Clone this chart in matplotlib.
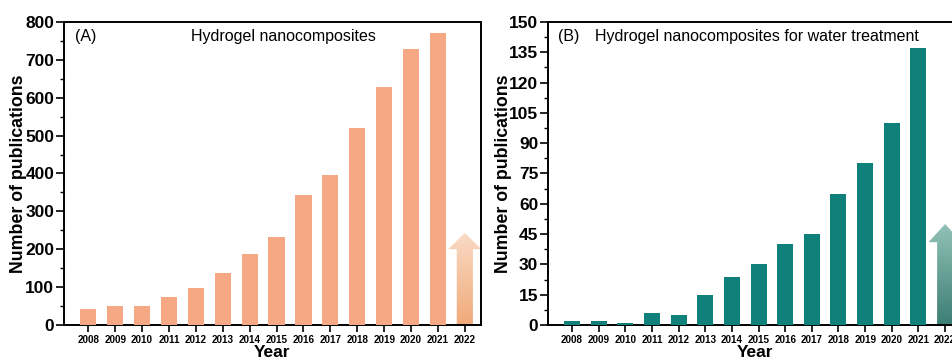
import numpy as np
import matplotlib.pyplot as plt
from matplotlib.patches import Polygon
from matplotlib.colors import LinearSegmentedColormap
from matplotlib.ticker import MultipleLocator

years = list(range(2008, 2022))
tick_years = list(range(2008, 2023))
hydrogel = [42, 51, 49, 75, 99, 137, 188, 232, 343, 397, 521, 628, 728, 771]
water = [2, 2, 1, 6, 5, 15, 24, 30, 40, 45, 65, 80, 100, 137]

plt.rcParams['font.family'] = ['Liberation Sans', 'DejaVu Sans']


def trend_arrow(ax, x, base, tip, shaft, head, cmap):
    # upward block arrow for the coming year, filled with a vertical gradient
    verts = [(x - shaft, 0), (x - shaft, base), (x - head, base), (x, tip),
             (x + head, base), (x + shaft, base), (x + shaft, 0)]
    poly = Polygon(verts, closed=True, facecolor='none', edgecolor='none')
    ax.add_patch(poly)
    grad = np.linspace(1, 0, 256).reshape(-1, 1)
    im = ax.imshow(grad, cmap=cmap, aspect='auto', origin='upper',
                   extent=(x - head, x + head, 0, tip), zorder=2)
    im.set_clip_path(poly)


def style_axes(ax, ymax, major, minor, ylabel_pad):
    ax.set_xlim(2007.1, 2022.6)
    ax.set_ylim(0, ymax)
    ax.set_xticks(tick_years)
    ax.set_xticklabels([str(y) for y in tick_years], fontsize=7.1, fontweight='bold')
    ax.yaxis.set_major_locator(MultipleLocator(major))
    ax.yaxis.set_minor_locator(MultipleLocator(minor))
    for lab in ax.get_yticklabels():
        lab.set_fontweight('bold')
        lab.set_fontsize(12.5)
    ax.tick_params(axis='y', which='major', direction='out', length=6, width=1.2, pad=1)
    ax.tick_params(axis='y', which='minor', direction='out', length=3, width=1)
    ax.tick_params(axis='x', which='major', direction='out', length=5, width=1.2, pad=2)
    for s in ax.spines.values():
        s.set_linewidth(1.4)
    ax.set_xlabel('Year', fontsize=12.5, fontweight='bold', labelpad=0)
    ax.set_ylabel('Number of publications', fontsize=12.8, fontweight='bold',
                  labelpad=ylabel_pad)


fig = plt.figure(figsize=(9.53, 3.6), dpi=100)

ax1 = fig.add_axes([0.0672, 0.0972, 0.4375, 0.8418])
ax1.bar(years, hydrogel, width=0.6, color='#F5A883', zorder=3)
orange_cmap = LinearSegmentedColormap.from_list('og', ['#F0AA78', '#FADBC6'])
trend_arrow(ax1, 2022, 200, 243, 0.3, 0.62, orange_cmap)
style_axes(ax1, 800, 100, 50, -1.5)
ax1.text(0.027, 0.978, '(A)', transform=ax1.transAxes, fontsize=11.5, va='top')
ax1.text(0.527, 0.978, 'Hydrogel nanocomposites', transform=ax1.transAxes,
         fontsize=11.5, va='top', ha='center')

ax2 = fig.add_axes([0.575, 0.0972, 0.4335, 0.8418])
ax2.bar(years, water, width=0.6, color='#10807A', zorder=3)
teal_cmap = LinearSegmentedColormap.from_list('tg', ['#3C7E74', '#93C2B8'])
trend_arrow(ax2, 2022, 41, 50, 0.3, 0.62, teal_cmap)
style_axes(ax2, 150, 15, 7.5, -2)
ax2.text(0.025, 0.978, '(B)', transform=ax2.transAxes, fontsize=11.5, va='top')
ax2.text(0.113, 0.978, 'Hydrogel nanocomposites for water treatment',
         transform=ax2.transAxes, fontsize=11.5, va='top', ha='left')

fig.savefig('out.png', dpi=100)
